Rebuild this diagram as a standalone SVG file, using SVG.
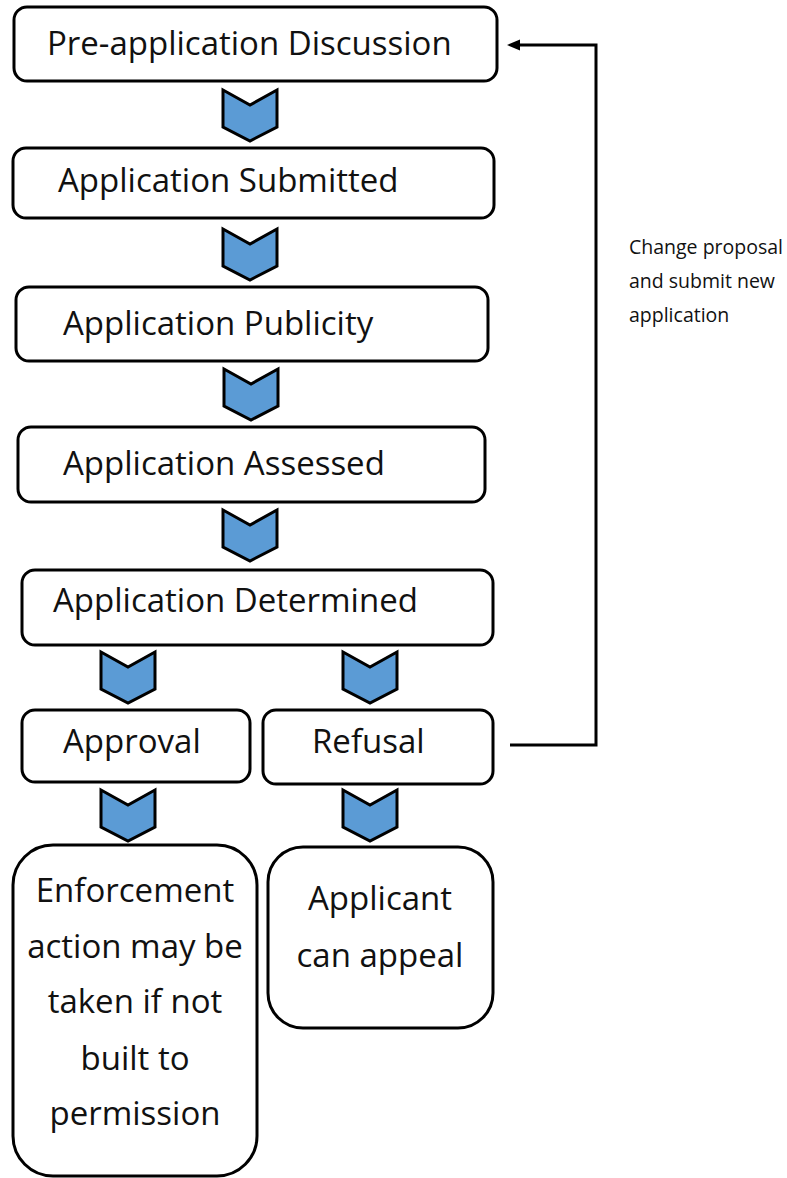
<svg xmlns="http://www.w3.org/2000/svg" width="787" height="1178" viewBox="0 0 787 1178">
<style>
.box{fill:#fff;stroke:#000;stroke-width:3}
.chev{fill:#5b9bd5;stroke:#000;stroke-width:3;stroke-linejoin:miter}
.t{font-family:"Open Sans","Noto Sans",sans-serif;font-size:33px;fill:#111}
.c{text-anchor:middle}
.s{font-family:"Open Sans","Noto Sans",sans-serif;font-size:19.5px;fill:#111}
.conn{fill:none;stroke:#000;stroke-width:3}
</style>
<defs>
<marker id="ah" viewBox="0 0 12 10" refX="2" refY="5" markerWidth="12" markerHeight="10" orient="auto" markerUnits="userSpaceOnUse">
<path d="M0,5 L12,0 L12,10 Z" fill="#000"/>
</marker>
<path id="chevron" d="M-27,0 L0,15 L27,0 L27,37 L0,51 L-27,37 Z"/>
</defs>
<rect width="787" height="1178" fill="#fff"/>
<g id="connectors">
<path class="conn" d="M510,745 H596 V45 H519"/>
<path d="M507,45 L520,39.5 L520,50.5 Z" fill="#000"/>
<text class="s" x="629" y="254">Change proposal</text>
<text class="s" x="629" y="288">and submit new</text>
<text class="s" x="629" y="322">application</text>
<use href="#chevron" class="chev" x="250" y="90"/>
<use href="#chevron" class="chev" x="250" y="229"/>
<use href="#chevron" class="chev" x="251" y="369"/>
<use href="#chevron" class="chev" x="250" y="510"/>
<use href="#chevron" class="chev" x="128" y="652"/>
<use href="#chevron" class="chev" x="370" y="652"/>
<use href="#chevron" class="chev" x="128" y="790"/>
<use href="#chevron" class="chev" x="370" y="790"/>
</g>
<g id="n-preapp">
<rect class="box" x="14" y="7" width="483" height="74" rx="13"/>
<text class="t" x="47" y="55">Pre-application Discussion</text>
</g>
<g id="n-submitted">
<rect class="box" x="13" y="148" width="481" height="70" rx="13"/>
<text class="t" x="58" y="192">Application Submitted</text>
</g>
<g id="n-publicity">
<rect class="box" x="16" y="287" width="472" height="74" rx="13"/>
<text class="t" x="63" y="335">Application Publicity</text>
</g>
<g id="n-assessed">
<rect class="box" x="18" y="427" width="467" height="75" rx="13"/>
<text class="t" x="63" y="475">Application Assessed</text>
</g>
<g id="n-determined">
<rect class="box" x="22" y="570" width="471" height="75" rx="13"/>
<text class="t" x="53" y="612">Application Determined</text>
</g>
<g id="n-approval">
<rect class="box" x="22" y="710" width="228" height="72" rx="13"/>
<text class="t" x="63" y="753">Approval</text>
</g>
<g id="n-refusal">
<rect class="box" x="263" y="710" width="230" height="74" rx="13"/>
<text class="t" x="312" y="753">Refusal</text>
</g>
<g id="n-enforcement">
<rect class="box" x="13" y="845" width="244" height="331" rx="40"/>
<text class="t c" x="135" y="902">Enforcement</text>
<text class="t c" x="135" y="958">action may be</text>
<text class="t c" x="135" y="1013">taken if not</text>
<text class="t c" x="135" y="1070">built to</text>
<text class="t c" x="135" y="1125">permission</text>
</g>
<g id="n-appeal">
<rect class="box" x="268" y="847" width="225" height="181" rx="35"/>
<text class="t c" x="380" y="910">Applicant</text>
<text class="t c" x="380" y="967">can appeal</text>
</g>
</svg>
